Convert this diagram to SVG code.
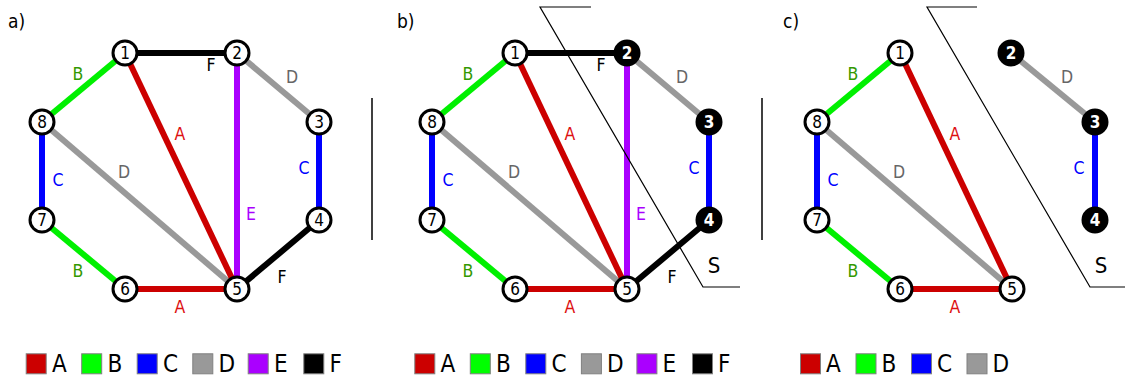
<svg xmlns="http://www.w3.org/2000/svg" width="1125" height="378" viewBox="0 0 1125 378">
<style>
text{font-family:"DejaVu Sans Condensed","DejaVu Sans",sans-serif;font-stretch:condensed}
.e{stroke-width:6;fill:none}
.ea{stroke:#cc0000}.eb{stroke:#00f000}.ec{stroke:#0000ff}.ed{stroke:#999999}.ee{stroke:#aa00ff}.ef{stroke:#000000}
.la{fill:#dd1111}.lb{fill:#339900}.lc{fill:#0000ff}.ld{fill:#666666}.le{fill:#aa00ff}.lf{fill:#000000}
.el{font-size:17.5px;text-anchor:middle}
.n circle{fill:#ffffff;stroke:#000000;stroke-width:3}
.n text{font-size:17px;text-anchor:middle;fill:#000}
.k circle{fill:#000000;stroke:#000000;stroke-width:3}
.k text{font-size:17px;text-anchor:middle;fill:#fff;font-weight:bold}
.cut{stroke:#000;stroke-width:1.2;fill:none}
.sep{stroke:#000;stroke-width:1.5}
.pl{font-size:19px}
.S{font-size:22px;text-anchor:middle}
.sq{stroke:#808080;stroke-width:1}
.lg{font-size:24px}
</style>
<g id="connectors">
<line class="e ef" x1="125" y1="53" x2="237" y2="53"/>
<line class="e eb" x1="125" y1="53" x2="42" y2="122"/>
<line class="e ed" x1="42" y1="122" x2="237" y2="289"/>
<line class="e ea" x1="125" y1="53" x2="237" y2="289"/>
<line class="e ee" x1="237" y1="53" x2="237" y2="289"/>
<line class="e ed" x1="237" y1="53" x2="319" y2="122"/>
<line class="e ec" x1="319" y1="122" x2="319" y2="220"/>
<line class="e ef" x1="319" y1="220" x2="237" y2="289"/>
<line class="e ec" x1="42" y1="122" x2="42" y2="220"/>
<line class="e eb" x1="42" y1="220" x2="125" y2="289"/>
<line class="e ea" x1="125" y1="289" x2="237" y2="289"/>

<line class="e ef" x1="515" y1="53" x2="627" y2="53"/>
<line class="e eb" x1="515" y1="53" x2="432" y2="122"/>
<line class="e ed" x1="432" y1="122" x2="627" y2="289"/>
<line class="e ea" x1="515" y1="53" x2="627" y2="289"/>
<line class="e ee" x1="627" y1="53" x2="627" y2="289"/>
<line class="e ed" x1="627" y1="53" x2="709" y2="122"/>
<line class="e ec" x1="709" y1="122" x2="709" y2="220"/>
<line class="e ef" x1="709" y1="220" x2="627" y2="289"/>
<line class="e ec" x1="432" y1="122" x2="432" y2="220"/>
<line class="e eb" x1="432" y1="220" x2="515" y2="289"/>
<line class="e ea" x1="515" y1="289" x2="627" y2="289"/>

<line class="e eb" x1="900" y1="53" x2="817" y2="122"/>
<line class="e ed" x1="817" y1="122" x2="1012" y2="289"/>
<line class="e ea" x1="900" y1="53" x2="1012" y2="289"/>
<line class="e ec" x1="817" y1="122" x2="817" y2="220"/>
<line class="e eb" x1="817" y1="220" x2="900" y2="289"/>
<line class="e ea" x1="900" y1="289" x2="1012" y2="289"/>
<line class="e ed" x1="1011" y1="53" x2="1095" y2="122"/>
<line class="e ec" x1="1095" y1="122" x2="1095" y2="220"/>
</g>
<g id="edge-labels">
<text class="el lb" x="78" y="80">B</text>
<text class="el lf" x="211" y="71">F</text>
<text class="el ld" x="292" y="83">D</text>
<text class="el la" x="180" y="140">A</text>
<text class="el ld" x="124" y="178">D</text>
<text class="el lc" x="58" y="186">C</text>
<text class="el lc" x="304" y="174">C</text>
<text class="el le" x="251" y="220">E</text>
<text class="el lb" x="78" y="277">B</text>
<text class="el lf" x="282" y="283">F</text>
<text class="el la" x="180" y="313">A</text>

<text class="el lb" x="468" y="80">B</text>
<text class="el lf" x="601" y="71">F</text>
<text class="el ld" x="682" y="83">D</text>
<text class="el la" x="570" y="140">A</text>
<text class="el ld" x="514" y="178">D</text>
<text class="el lc" x="448" y="186">C</text>
<text class="el lc" x="694" y="174">C</text>
<text class="el le" x="641" y="220">E</text>
<text class="el lb" x="468" y="277">B</text>
<text class="el lf" x="672" y="283">F</text>
<text class="el la" x="570" y="313">A</text>

<text class="el lb" x="853" y="80">B</text>
<text class="el ld" x="1067" y="83">D</text>
<text class="el la" x="955" y="140">A</text>
<text class="el ld" x="899" y="178">D</text>
<text class="el lc" x="833" y="186">C</text>
<text class="el lc" x="1079" y="174">C</text>
<text class="el lb" x="853" y="277">B</text>
<text class="el la" x="955" y="313">A</text>
</g>
<g id="a-n1" class="n"><circle cx="125" cy="53" r="12"/><text x="125" y="59">1</text></g>
<g id="a-n2" class="n"><circle cx="237" cy="53" r="12"/><text x="237" y="59">2</text></g>
<g id="a-n3" class="n"><circle cx="319" cy="122" r="12"/><text x="319" y="128">3</text></g>
<g id="a-n4" class="n"><circle cx="319" cy="220" r="12"/><text x="319" y="226">4</text></g>
<g id="a-n5" class="n"><circle cx="237" cy="289" r="12"/><text x="237" y="295">5</text></g>
<g id="a-n6" class="n"><circle cx="125" cy="289" r="12"/><text x="125" y="295">6</text></g>
<g id="a-n7" class="n"><circle cx="42" cy="220" r="12"/><text x="42" y="226">7</text></g>
<g id="a-n8" class="n"><circle cx="42" cy="122" r="12"/><text x="42" y="128">8</text></g>

<g id="b-n1" class="n"><circle cx="515" cy="53" r="12"/><text x="515" y="59">1</text></g>
<g id="b-n2" class="k"><circle cx="627" cy="53" r="12"/><text x="627" y="59">2</text></g>
<g id="b-n3" class="k"><circle cx="709" cy="122" r="12"/><text x="709" y="128">3</text></g>
<g id="b-n4" class="k"><circle cx="709" cy="220" r="12"/><text x="709" y="226">4</text></g>
<g id="b-n5" class="n"><circle cx="627" cy="289" r="12"/><text x="627" y="295">5</text></g>
<g id="b-n6" class="n"><circle cx="515" cy="289" r="12"/><text x="515" y="295">6</text></g>
<g id="b-n7" class="n"><circle cx="432" cy="220" r="12"/><text x="432" y="226">7</text></g>
<g id="b-n8" class="n"><circle cx="432" cy="122" r="12"/><text x="432" y="128">8</text></g>

<g id="c-n1" class="n"><circle cx="900" cy="53" r="12"/><text x="900" y="59">1</text></g>
<g id="c-n2" class="k"><circle cx="1011" cy="53" r="12"/><text x="1011" y="59">2</text></g>
<g id="c-n3" class="k"><circle cx="1095" cy="122" r="12"/><text x="1095" y="128">3</text></g>
<g id="c-n4" class="k"><circle cx="1095" cy="220" r="12"/><text x="1095" y="226">4</text></g>
<g id="c-n5" class="n"><circle cx="1012" cy="289" r="12"/><text x="1012" y="295">5</text></g>
<g id="c-n6" class="n"><circle cx="900" cy="289" r="12"/><text x="900" y="295">6</text></g>
<g id="c-n7" class="n"><circle cx="817" cy="220" r="12"/><text x="817" y="226">7</text></g>
<g id="c-n8" class="n"><circle cx="817" cy="122" r="12"/><text x="817" y="128">8</text></g>

<g id="cuts">
<polyline class="cut" points="591,7 540,7 703,287 740,287"/>
<text class="S" x="714" y="273">S</text>
<polyline class="cut" points="977,7 927,7 1090,287 1125,287"/>
<text class="S" x="1101" y="273">S</text>
<line class="sep" x1="372" y1="98" x2="372" y2="240"/>
<line class="sep" x1="762" y1="98" x2="762" y2="240"/>
</g>
<g id="panel-labels">
<text class="pl" x="8" y="28">a)</text>
<text class="pl" x="397" y="28">b)</text>
<text class="pl" x="783" y="28">c)</text>
</g>
<g id="legend">
<rect class="sq" x="26.2" y="353.8" width="20" height="20" fill="#cc0000"/><text class="lg" x="52" y="372">A</text>
<rect class="sq" x="81.7" y="353.8" width="20" height="20" fill="#00ff00"/><text class="lg" x="107.5" y="372">B</text>
<rect class="sq" x="137.2" y="353.8" width="20" height="20" fill="#0000ff"/><text class="lg" x="163" y="372">C</text>
<rect class="sq" x="192.8" y="353.8" width="20" height="20" fill="#999999"/><text class="lg" x="218.5" y="372">D</text>
<rect class="sq" x="248.2" y="353.8" width="20" height="20" fill="#aa00ff"/><text class="lg" x="274" y="372">E</text>
<rect class="sq" x="303.8" y="353.8" width="20" height="20" fill="#000000"/><text class="lg" x="329.5" y="372">F</text>

<rect class="sq" x="414.8" y="353.8" width="20" height="20" fill="#cc0000"/><text class="lg" x="440.5" y="372">A</text>
<rect class="sq" x="470.3" y="353.8" width="20" height="20" fill="#00ff00"/><text class="lg" x="496" y="372">B</text>
<rect class="sq" x="525.8" y="353.8" width="20" height="20" fill="#0000ff"/><text class="lg" x="551.5" y="372">C</text>
<rect class="sq" x="581.4" y="353.8" width="20" height="20" fill="#999999"/><text class="lg" x="607" y="372">D</text>
<rect class="sq" x="636.9" y="353.8" width="20" height="20" fill="#aa00ff"/><text class="lg" x="662.5" y="372">E</text>
<rect class="sq" x="692.5" y="353.8" width="20" height="20" fill="#000000"/><text class="lg" x="718" y="372">F</text>

<rect class="sq" x="800.5" y="353.8" width="20" height="20" fill="#cc0000"/><text class="lg" x="826" y="372">A</text>
<rect class="sq" x="856" y="353.8" width="20" height="20" fill="#00ff00"/><text class="lg" x="881.5" y="372">B</text>
<rect class="sq" x="911.5" y="353.8" width="20" height="20" fill="#0000ff"/><text class="lg" x="937" y="372">C</text>
<rect class="sq" x="967" y="353.8" width="20" height="20" fill="#999999"/><text class="lg" x="992.5" y="372">D</text>
</g>
</svg>
